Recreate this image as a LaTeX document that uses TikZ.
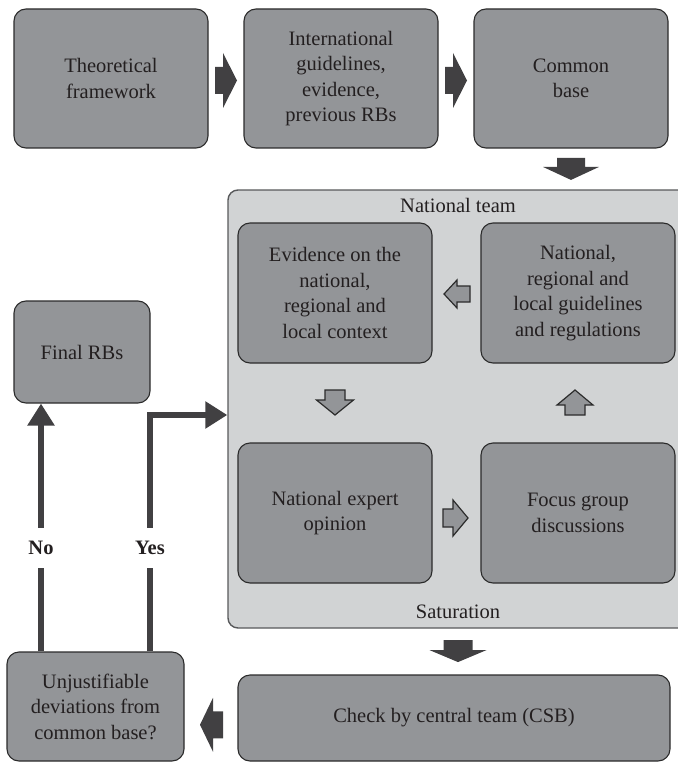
\documentclass[tikz,border=0pt]{standalone}
\usepackage{fontspec}
\setmainfont{Liberation Serif}
\usetikzlibrary{calc,arrows.meta}
\definecolor{boxfill}{HTML}{939598}
\definecolor{contfill}{HTML}{D1D3D4}
\definecolor{contedge}{HTML}{58595B}
\definecolor{edge}{HTML}{2B2B2B}
\definecolor{darkarrow}{HTML}{414042}
\definecolor{txt}{HTML}{231F20}
\begin{document}
\begin{tikzpicture}[x=1pt,y=-1pt,
  txtfont/.style={font=\fontsize{20.5}{25.5}\selectfont},
  box/.style={draw=edge, line width=1.1pt, fill=boxfill, rounded corners=12pt,
    align=center, text=txt, txtfont, inner sep=0pt},
  cont/.style={draw=contedge, line width=1.4pt, fill=contfill, rounded corners=10pt},
  lab/.style={text=txt, txtfont, inner sep=0pt},
  blab/.style={text=txt, font=\fontsize{20.5}{25.5}\selectfont\bfseries, fill=white,
    minimum height=40pt, inner xsep=3pt, inner ysep=0pt},
  hollow/.style={draw=edge, line width=1.2pt, fill=boxfill, line join=miter},
  solidarrow/.style={fill=darkarrow},
  flow/.style={draw=darkarrow, line width=6pt, -{Triangle[length=22pt,width=26pt]}},
]
\useasboundingbox (0,0) rectangle (677,762);

% top row
\node[box, minimum width=194pt, minimum height=139pt] (B1) at (111,78.5) {Theoretical\\framework};
\node[box, minimum width=194pt, minimum height=139pt] (B2) at (341,78.5) {International\\guidelines,\\evidence,\\previous RBs};
\node[box, minimum width=194pt, minimum height=139pt] (B3) at (571,78.5) {Common\\base};

% container
\node[cont, minimum width=462pt, minimum height=438pt] (Cont) at (459,409) {};
\node[lab] (NT) at (458,205) {National team};
\node[lab] (Sat) at (458,612) {Saturation};

% inner boxes
\node[box, minimum width=194pt, minimum height=140pt] (E) at (335,293) {Evidence on the\\national,\\regional and\\local context};
\node[box, minimum width=194pt, minimum height=140pt] (G) at (578,293) {National,\\regional and\\local guidelines\\and regulations};
\node[box, minimum width=194pt, minimum height=140pt] (X) at (335,513) {National expert\\opinion};
\node[box, minimum width=194pt, minimum height=140pt] (F) at (578,513) {Focus group\\discussions};

% left side
\node[box, minimum width=136pt, minimum height=102pt] (Final) at (82,352) {Final RBs};
\node[box, minimum width=177pt, minimum height=109pt] (U) at (95.5,706.5) {Unjustifiable\\deviations from\\common base?};
\node[box, minimum width=432pt, minimum height=86pt] (C) at (454,718) {Check by central team (CSB)};

% dark block arrows
\coordinate (a1) at ($(B1.east)!0.5!(B2.west)+(0,2)$);
\coordinate (a2) at ($(B2.east)!0.5!(B3.west)+(0,2)$);
\coordinate (a3) at ($(B3.south)!0.5!(B3.south |- Cont.north)$);
\coordinate (a4) at ($(Cont.south)!0.5!(C.north)+(1.5,0)$);
\coordinate (a5) at ($(U.east)!0.5!(C.west)+(0.5,12.5)$);
\fill[solidarrow] (a1) ++(-11,-13.5) -- ++(8,0) -- ++(0,-14) -- ++(14,27.5) -- ++(-14,27.5) -- ++(0,-14) -- ++(-8,0) -- cycle;
\fill[solidarrow] (a2) ++(-11,-13.5) -- ++(8,0) -- ++(0,-14) -- ++(14,27.5) -- ++(-14,27.5) -- ++(0,-14) -- ++(-8,0) -- cycle;
\fill[solidarrow] (a3) ++(-14,-11) -- ++(28,0) -- ++(0,9) -- ++(14,0) -- ++(-28,13) -- ++(-28,-13) -- ++(14,0) -- cycle;
\fill[solidarrow] (a4) ++(-14.5,-11.5) -- ++(29,0) -- ++(0,10) -- ++(14,0) -- ++(-28.5,12) -- ++(-28.5,-12) -- ++(14,0) -- cycle;
\fill[solidarrow] (a5) ++(-11.5,0) -- ++(13,-27) -- ++(0,13.5) -- ++(10,0) -- ++(0,27) -- ++(-10,0) -- ++(0,13.5) -- cycle;

% hollow arrows inside the container
\coordinate (m1) at ($(G.west)!0.5!(E.east)$);
\coordinate (m2) at ($(E.south)!0.5!(X.north)$);
\coordinate (m3) at ($(F.north)!0.5!(G.south)+(-3,0)$);
\coordinate (m4) at ($(X.east)!0.5!(F.west)+(0,5)$);
\draw[hollow] (m1) ++(-12.5,1) -- ++(13,-14) -- ++(0,6) -- ++(13,0) -- ++(0,16) -- ++(-13,0) -- ++(0,6) -- cycle;
\draw[hollow] (m2) ++(-10,-13) -- ++(20,0) -- ++(0,10) -- ++(8.5,0) -- ++(-18.5,15) -- ++(-18.5,-15) -- ++(8.5,0) -- cycle;
\draw[hollow] (m3) ++(0,-13) -- ++(18,15) -- ++(-8,0) -- ++(0,10) -- ++(-20,0) -- ++(0,-10) -- ++(-8,0) -- cycle;
\draw[hollow] (m4) ++(-13.5,-9) -- ++(10,0) -- ++(0,-9) -- ++(15,18) -- ++(-15,18) -- ++(0,-9) -- ++(-10,0) -- cycle;

% decision connectors
\coordinate (nox) at (41,0);
\coordinate (yesx) at (150,415);
\draw[flow] (U.north -| nox) -- (Final.south -| nox);
\draw[flow] (U.north -| yesx) |- (Cont.west |- yesx);
\node[blab] (No) at (41,548) {No};
\node[blab] (Yes) at (150,548) {Yes};
\end{tikzpicture}
\end{document}
